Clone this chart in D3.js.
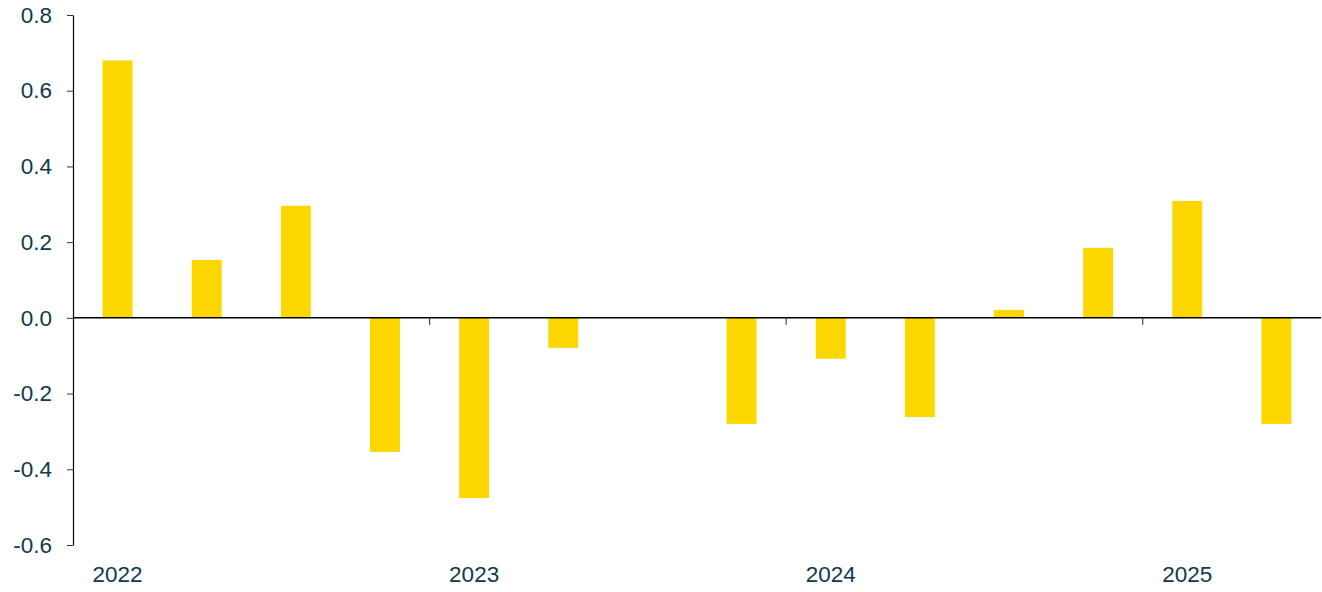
<!DOCTYPE html>
<html><head><meta charset="utf-8">
<script src="https://cdn.jsdelivr.net/npm/d3@7"></script>
<style>body{margin:0;background:#fff}svg{display:block}text{font-family:"Liberation Sans",Arial,sans-serif}</style>
</head><body><svg id="c" width="1322" height="592"></svg>
<script>
const quarters = ["2022Q1","2022Q2","2022Q3","2022Q4","2023Q1","2023Q2","2023Q3","2023Q4","2024Q1","2024Q2","2024Q3","2024Q4","2025Q1","2025Q2"];
const values = [0.68,0.153,0.296,-0.354,-0.476,-0.079,0,-0.28,-0.108,-0.262,0.021,0.185,0.309,-0.28];
const yTicks = [-0.6,-0.4,-0.2,0,0.2,0.4,0.6,0.8];
const yearLabels = ["2022","2023","2024","2025"];

(function(){
const svg = d3.select("#c");
const mL = 73, mR = 1321, mT = 15, mB = 545;
const textColor = "#0e3a4c";
const fs = 22.5;
const x = d3.scaleBand().domain(quarters).range([mL, mR]).paddingInner(0.664).paddingOuter(0.332);
const y = d3.scaleLinear().domain([-0.6, 0.8]).range([mB, mT]);

svg.selectAll("rect.bar").data(values).join("rect").attr("class","bar")
  .attr("x",(d,i)=>x(quarters[i]))
  .attr("width",x.bandwidth())
  .attr("y",d=>y(Math.max(0,d)))
  .attr("height",d=>Math.abs(y(d)-y(0)))
  .attr("fill","#FFD700");

const yAxis = svg.append("g").attr("transform",`translate(${mL},0)`)
  .call(d3.axisLeft(y).tickValues(yTicks).tickFormat(d=>d3.format(".1f")(d).replace("\u2212","-")).tickSizeInner(6).tickSizeOuter(0).tickPadding(15));
yAxis.select(".domain").attr("stroke","#000").attr("stroke-width",1.2);
yAxis.selectAll(".tick line").attr("stroke","#333");
yAxis.selectAll("text").attr("font-size",fs).attr("fill",textColor).attr("font-family","Liberation Sans, Arial, sans-serif");

svg.append("line").attr("x1",mL).attr("x2",mR).attr("y1",y(0)).attr("y2",y(0)).attr("stroke","#000").attr("stroke-width",1.5);

const sepIdx = [4,8,12];
const sepX = i => x(quarters[i]) - x.step()*x.paddingInner()/2;
svg.selectAll("line.sep").data(sepIdx).join("line").attr("class","sep")
  .attr("x1",sepX).attr("x2",sepX)
  .attr("y1",y(0)).attr("y2",y(0)+7).attr("stroke","#444").attr("stroke-width",1.2);

svg.selectAll("text.year").data(yearLabels).join("text").attr("class","year")
  .attr("x",(d,i)=>x(quarters[i*4])+x.bandwidth()/2)
  .attr("y",582).attr("text-anchor","middle").attr("font-size",fs).attr("fill",textColor).text(d=>d);
})();
</script></body></html>
